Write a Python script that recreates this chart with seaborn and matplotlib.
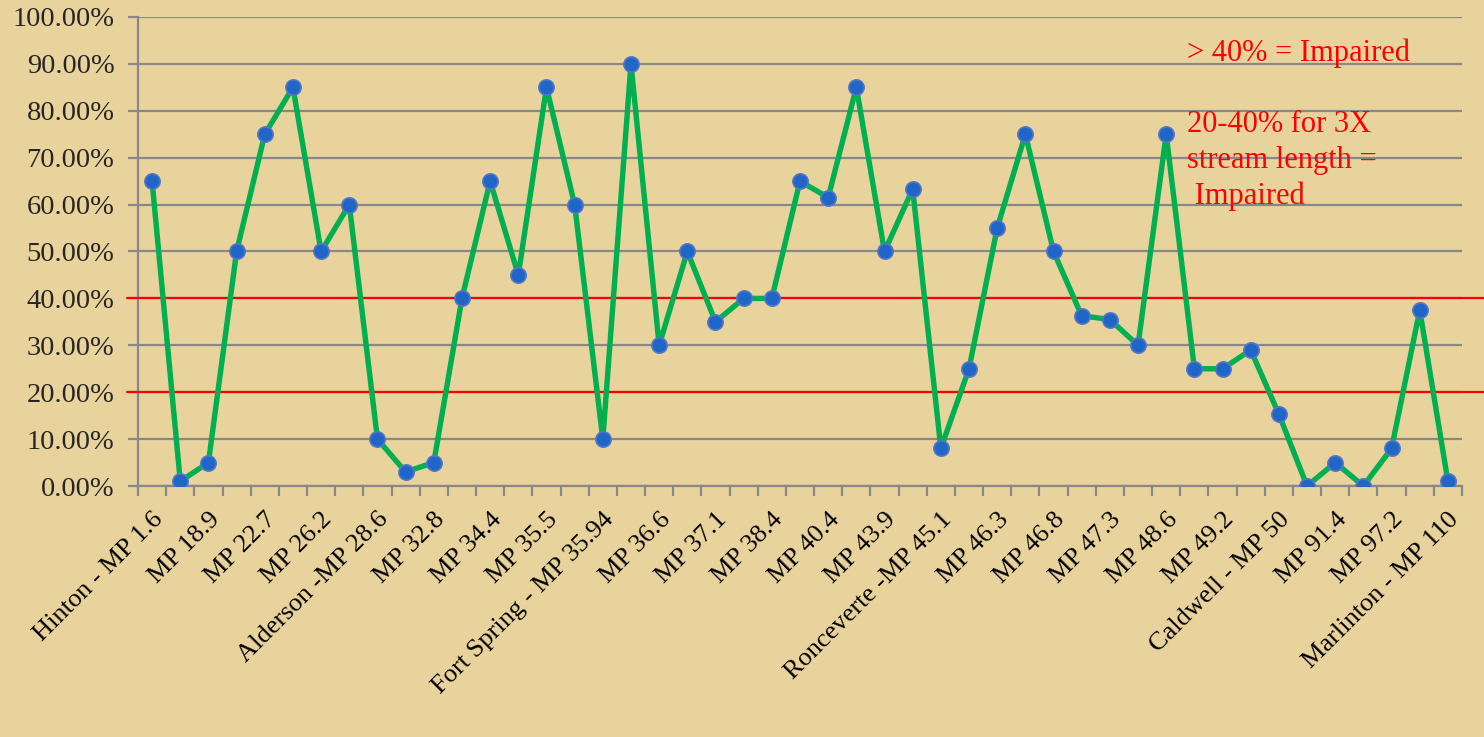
import matplotlib
matplotlib.use("Agg")
import matplotlib.pyplot as plt
import matplotlib.transforms as mtransforms
from matplotlib.ticker import PercentFormatter, FixedLocator, NullFormatter
import seaborn as sns
import numpy as np

# ---- data ----
labels_shown = ["Hinton - MP 1.6", "MP 18.9", "MP 22.7", "MP 26.2", "Alderson -MP 28.6",
                "MP 32.8", "MP 34.4", "MP 35.5", "Fort Spring - MP 35.94", "MP 36.6",
                "MP 37.1", "MP 38.4", "MP 40.4", "MP 43.9", "Ronceverte -MP 45.1",
                "MP 46.3", "MP 46.8", "MP 47.3", "MP 48.6", "MP 49.2", "Caldwell - MP 50",
                "MP 91.4", "MP 97.2", "Marlinton - MP 110"]
values = [65, 1, 5, 50, 75, 85, 50, 60, 10, 3, 5, 40, 65, 45, 85, 60, 10, 90, 30, 50,
          35, 40, 40, 65, 61.5, 85, 50, 63.3, 8, 25, 55, 75, 50, 36.3, 35.5, 30, 75,
          25, 25, 29, 15.3, 0, 5, 0, 8, 37.5, 1]
thresholds = [40, 20]
note1 = "> 40% = Impaired"
note2 = "20-40% for 3X\nstream length =\n Impaired"

W, H = 1484, 737
sns.set_theme(style="white")
plt.rcParams['font.family'] = ['Liberation Serif', 'DejaVu Serif']

bg = '#E9D39D'
fig = plt.figure(figsize=(W / 100, H / 100), dpi=100, facecolor=bg)
ax = fig.add_axes([138 / W, 1 - 486 / H, (1462 - 138) / W, (486 - 17) / H])
ax.set_facecolor(bg)

x = np.arange(len(values))
sns.lineplot(x=x, y=values, ax=ax, color='#00B050', linewidth=3.9, sort=False,
             marker='o', markersize=11, markerfacecolor='#1F66C8',
             markeredgecolor='#5577C4', markeredgewidth=1.2, zorder=5)

ax.set_xlim(-0.5, len(values) - 0.5)
ax.set_ylim(0, 100)
ax.set_xlabel("")
ax.set_ylabel("")

gray = '#888888'
ax.set_yticks(np.arange(0, 101, 10))
ax.yaxis.set_major_formatter(PercentFormatter(xmax=100, decimals=2))
ax.grid(axis='y', color=gray, linewidth=1.6)
ax.grid(axis='x', visible=False)
ax.set_axisbelow(True)

ax.set_xticks(np.arange(0, len(values), 2))
ax.set_xticklabels(labels_shown, rotation=45, ha='right', va='top',
                   rotation_mode='anchor')
ax.xaxis.set_minor_locator(FixedLocator(np.arange(-0.5, len(values), 1)))
ax.xaxis.set_minor_formatter(NullFormatter())
ax.tick_params(axis='x', which='major', length=0, pad=16, labelsize=19, colors='black')
ax.tick_params(axis='x', which='minor', length=7, width=1.6, color=gray, bottom=True)
ax.tick_params(axis='y', which='major', length=7, width=1.6, color=gray, left=True,
               labelsize=20.5, pad=10)

for s in ['top', 'right']:
    ax.spines[s].set_visible(False)
for s in ['left', 'bottom']:
    ax.spines[s].set_color(gray)
    ax.spines[s].set_linewidth(1.6)

trans = mtransforms.blended_transform_factory(ax.transAxes, ax.transData)
x0 = (127 - 138) / (1462 - 138)
x1 = (1484 - 138) / (1462 - 138)
for t in thresholds:
    ax.plot([x0, x1], [t, t], transform=trans, color='#FF0000', linewidth=1.6,
            clip_on=False, zorder=3)

fig.text(1187 / W, 1 - 53 / H, note1, color='#FF0000', fontsize=22,
         ha='left', va='center')
fig.text(1187 / W, 1 - 110 / H, note2, color='#FF0000', fontsize=22,
         ha='left', va='top', linespacing=1.3)

fig.savefig("out.png", dpi=100, facecolor=bg)
